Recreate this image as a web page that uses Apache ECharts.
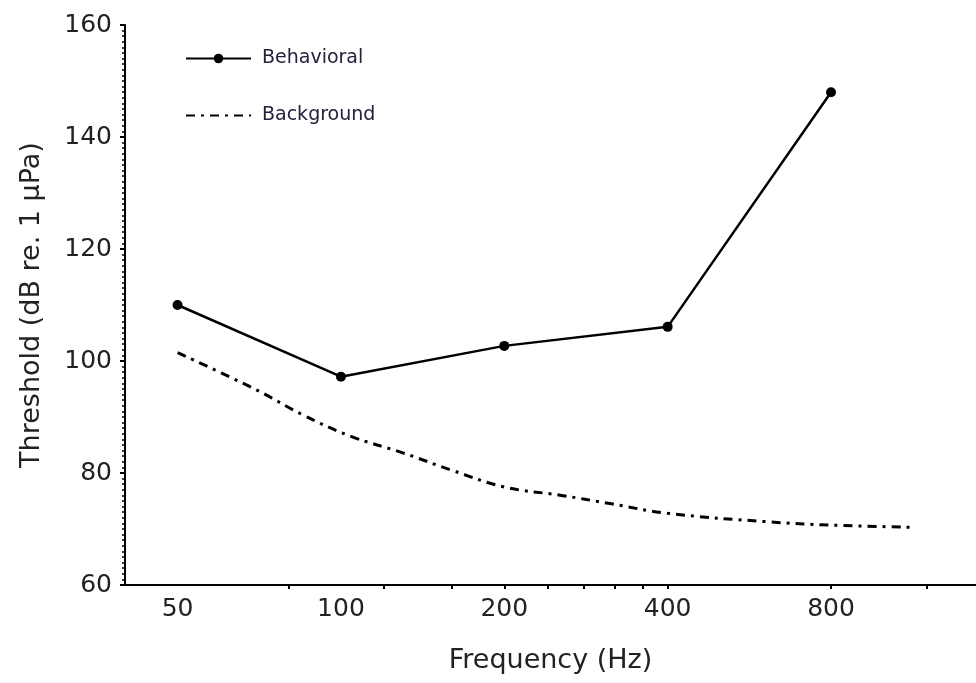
<!DOCTYPE html>
<html>
<head>
<meta charset="utf-8">
<script src="https://cdn.jsdelivr.net/npm/echarts@6/dist/echarts.min.js"></script>
<style>
html,body{margin:0;padding:0;background:#fff;}
#chart{width:976px;height:683px;}
</style>
</head>
<body>
<div id="chart"></div>
<script>
// Data (frequency in Hz, threshold in dB re. 1 µPa)
const behavioralFreq = [50, 100, 200, 400, 800];
const behavioralValues = [110, 97.2, 102.7, 106.1, 148];
const backgroundFreq = [50, 70, 85, 104, 130, 160, 200, 255, 315, 400, 610, 800, 1135];
const backgroundValues = [101.5, 94.8, 90.4, 86.6, 83.6, 80.5, 77.5, 76.0, 74.5, 72.8, 71.3, 70.7, 70.3];
const xLabelFreqs = [50, 100, 200, 400, 800];
const xTickFreqs = [80, 120, 160, 200, 240, 280, 320, 360, 400, 800, 1200];
const xRange = [40, 1480];
const yRange = [60, 160];

const L = f => Math.log2(f);
const toPairs = (xs, ys) => xs.map((f, i) => [L(f), ys[i]]);

const chart = echarts.init(document.getElementById('chart'), null, {renderer: 'canvas'});
const font = 'DejaVu Sans, Liberation Sans, Arial, sans-serif';
chart.setOption({
  animation: false,
  backgroundColor: '#fff',
  grid: {left: 125, right: 0, top: 25, bottom: 98, containLabel: false},
  legend: {
    orient: 'vertical',
    left: 185,
    top: 49,
    padding: 0,
    itemWidth: 65,
    itemHeight: 12,
    itemGap: 38,
    textStyle: {fontFamily: font, fontSize: 19, color: '#22223a', padding: [0, 0, 0, 6]},
    data: [
      {name: 'Behavioral'},
      {name: 'Background', itemStyle: {opacity: 0}}
    ]
  },
  xAxis: {
    type: 'value',
    min: L(xRange[0]),
    max: L(xRange[1]),
    name: 'Frequency (Hz)',
    nameLocation: 'middle',
    nameGap: 62,
    nameTextStyle: {fontFamily: font, fontSize: 27, color: '#222'},
    axisLine: {show: true, lineStyle: {color: '#000', width: 2}},
    axisTick: {show: true, length: 4, inside: false, lineStyle: {color: '#000', width: 2},
      customValues: xTickFreqs.map(L)},
    axisLabel: {fontFamily: font, fontSize: 25, color: '#222', margin: 12,
      customValues: xLabelFreqs.map(L),
      formatter: v => String(Math.round(Math.pow(2, v)))},
    splitLine: {show: false}
  },
  yAxis: {
    type: 'value',
    min: yRange[0],
    max: yRange[1],
    interval: 20,
    name: 'Threshold (dB re. 1 µPa)',
    nameLocation: 'middle',
    nameGap: 80,
    nameTextStyle: {fontFamily: font, fontSize: 27, color: '#222'},
    axisLine: {show: true, lineStyle: {color: '#000', width: 2}},
    axisTick: {show: true, length: 5, lineStyle: {color: '#000', width: 2}},
    minorTick: {show: true, splitNumber: 20, length: 3, lineStyle: {color: '#000', width: 1.5}},
    axisLabel: {fontFamily: font, fontSize: 25, color: '#222', margin: 13},
    splitLine: {show: false}
  },
  series: [
    {
      name: 'Behavioral',
      type: 'line',
      data: toPairs(behavioralFreq, behavioralValues),
      symbol: 'circle',
      symbolSize: 10,
      lineStyle: {color: '#000', width: 2.5},
      itemStyle: {color: '#000'},
      z: 3
    },
    {
      name: 'Background',
      type: 'line',
      data: toPairs(backgroundFreq, backgroundValues),
      symbol: 'none',
      smooth: 0.4,
      lineStyle: {color: '#000', width: 3, type: [9, 6, 3, 6]},
      itemStyle: {color: '#000'},
      z: 2
    }
  ]
});
</script>
</body>
</html>
